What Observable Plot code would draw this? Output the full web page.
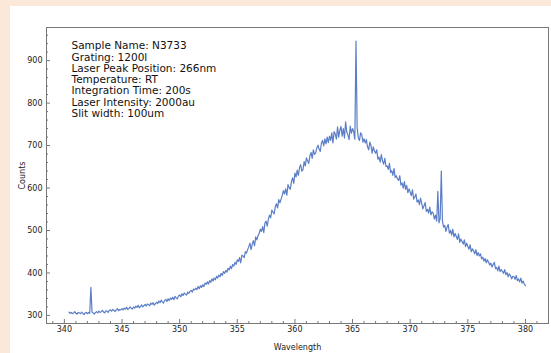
<!DOCTYPE html>
<html><head><meta charset="utf-8">
<script src="https://cdn.jsdelivr.net/npm/d3@7"></script>
<script src="https://cdn.jsdelivr.net/npm/@observablehq/plot@0.6"></script>
<style>
html,body{margin:0;padding:0;background:#fce8d9;}
body{width:551px;height:353px;overflow:hidden;position:relative;}
#card{position:absolute;left:10px;top:6px;width:541px;height:347px;background:#fff;}
</style></head><body><div id="card"></div>
<script>
// Spectrum sampled every 0.1 nm starting at 340.4 nm
const startWavelength = 340.4;
const stepWavelength = 0.1;
const counts = [
  308,305,307,304,306,309,
  305,303,307,306,304,308,305,302,306,307,
  304,307,305,366,308,306,303,307,309,306,
  310,307,309,312,308,306,311,310,307,312,
  313,310,314,312,309,313,316,311,314,313,
  316,313,317,315,319,314,316,320,317,315,
  320,317,322,319,324,318,321,325,320,323,
  326,322,327,325,323,329,326,330,324,328,
  331,328,334,330,336,332,329,335,338,333,
  339,335,341,338,343,337,345,341,339,346,
  348,344,351,347,353,350,348,355,352,357,
  359,355,362,360,364,361,368,363,370,366,
  372,368,376,373,379,374,382,378,386,381,
  388,384,392,388,395,391,399,394,403,399,
  406,402,411,407,416,410,420,416,425,420,
  431,427,436,424,442,440,436,450,447,455,
  462,470,455,468,476,464,485,478,488,493,
  503,498,509,495,518,522,510,527,536,530,
  548,543,539,556,563,553,573,565,574,582,
  594,586,598,583,608,601,597,615,624,611,
  635,626,642,630,648,655,640,643,662,652,
  671,664,658,676,684,670,690,679,683,694,
  701,692,686,706,712,699,716,704,720,707,
  722,712,730,706,733,727,715,744,720,736,
  745,722,740,718,756,732,725,714,746,729,
  740,733,715,946,742,718,712,730,726,708,
  716,706,714,697,690,708,700,682,697,687,
  682,690,668,673,661,679,664,656,670,651,
  652,644,658,637,641,630,646,625,629,621,
  618,629,607,612,600,615,597,606,589,598,
  590,582,596,574,579,586,567,572,561,576,
  564,551,558,566,545,550,541,555,537,544,
  541,527,536,522,592,518,528,640,522,508,
  512,498,508,514,494,500,489,503,485,493,
  486,479,492,472,480,474,468,478,462,470,
  463,456,466,450,457,452,445,455,441,448,
  440,445,433,437,428,434,424,431,425,419,
  423,414,420,425,410,413,405,416,403,408,
  404,399,408,396,401,391,398,394,386,392,
  391,385,394,382,386,379,388,376,381,374,
  370
];
const xTicks = [340, 345, 350, 355, 360, 365, 370, 375, 380];
const yTicks = [300, 400, 500, 600, 700, 800, 900];
const infoLines = [
  "Sample Name: N3733",
  "Grating: 1200l",
  "Laser Peak Position: 266nm",
  "Temperature: RT",
  "Integration Time: 200s",
  "Laser Intensity: 2000au",
  "Slit width: 100um"
];

const data = counts.map((c, i) => ({
  wavelength: Math.round((startWavelength + i * stepWavelength) * 10) / 10,
  counts: c
}));

const W = 541, H = 347, mL = 36, mR = 3, mT = 21, mB = 30;
const innerW = W - mL - mR, innerH = H - mT - mB;
const xMinor = d3.range(339, 383, 1).filter(v => v % 5 !== 0);
const yMinor = d3.range(300, 980, 20).filter(v => v % 100 !== 0);
const tickColor = "#777";

const chart = Plot.plot({
  width: W, height: H,
  marginLeft: mL, marginRight: mR, marginTop: mT, marginBottom: mB,
  x: {domain: [338.45, 382.0]},
  y: {domain: [281, 978]},
  style: {fontFamily: "DejaVu Sans", background: "white", color: "#222"},
  marks: [
    Plot.line(data, {x: "wavelength", y: "counts", stroke: "#5b7ec6", strokeWidth: 1.2, clip: true}),
    Plot.tickX(xTicks, {x: d => d, insetTop: innerH - 4, stroke: tickColor}),
    Plot.tickX(xMinor, {x: d => d, insetTop: innerH - 2, stroke: tickColor}),
    Plot.tickY(yTicks, {y: d => d, insetRight: innerW - 4, stroke: tickColor}),
    Plot.tickY(yMinor, {y: d => d, insetRight: innerW - 2, stroke: tickColor}),
    Plot.frame({stroke: tickColor}),
    Plot.axisX(xTicks, {tickSize: 0, tickPadding: 3, fontSize: 8, label: "Wavelength", labelAnchor: "center", labelArrow: "none", labelOffset: 26}),
    Plot.axisY(yTicks, {tickSize: 0, tickPadding: 4, fontSize: 8, label: "Counts", labelAnchor: "center", labelArrow: "none", labelOffset: 27}),
    Plot.text([infoLines.join("\n")], {frameAnchor: "top-left", dx: 25, dy: 14, lineAnchor: "top", textAnchor: "start", fontSize: 10.5, lineHeight: 1.07, fill: "#111"})
  ]
});
document.getElementById("card").appendChild(chart);
</script>
</body></html>
